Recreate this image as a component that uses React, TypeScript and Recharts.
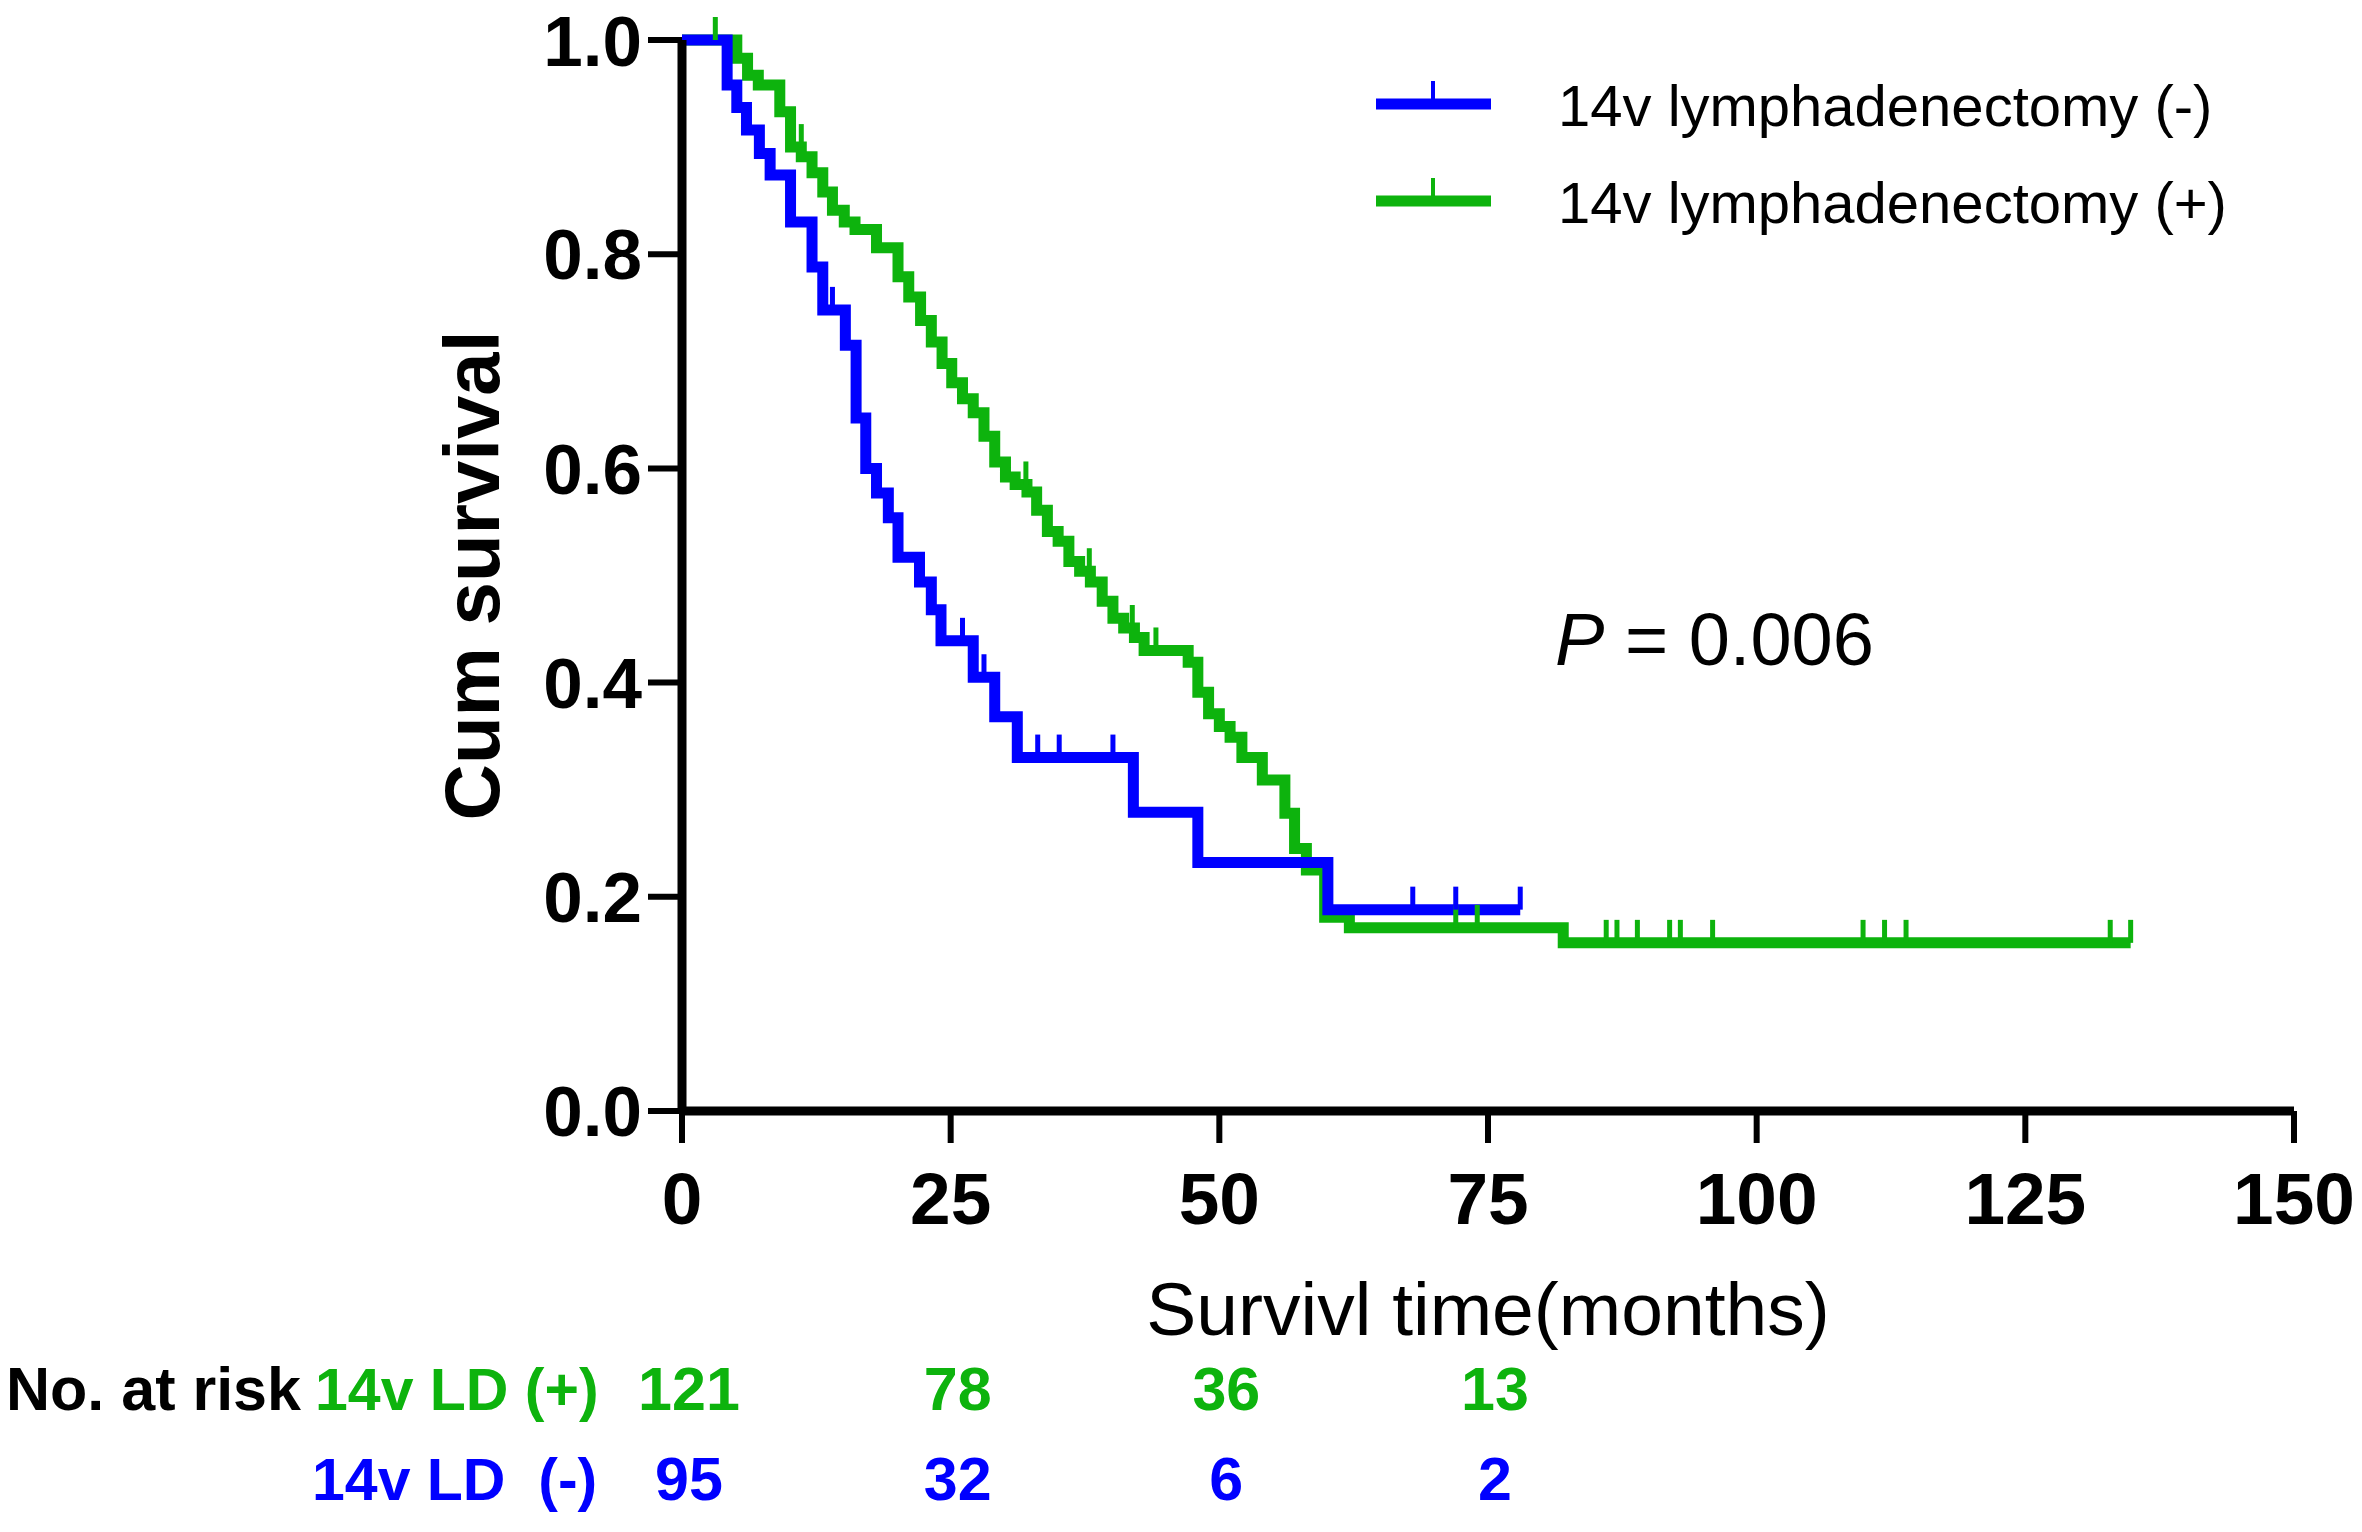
import React from 'react';
import { ComposedChart, Line, Scatter, XAxis, YAxis, Customized } from 'recharts';

// ---- data ----
const blueKM = [
  { t: 0, s: 1.0 }, { t: 4.2, s: 0.958 }, { t: 5.1, s: 0.937 }, { t: 6.0, s: 0.916 },
  { t: 7.2, s: 0.894 }, { t: 8.2, s: 0.874 }, { t: 10.1, s: 0.83 }, { t: 12.1, s: 0.788 },
  { t: 13.1, s: 0.748 }, { t: 15.2, s: 0.715 }, { t: 16.2, s: 0.647 }, { t: 17.1, s: 0.6 },
  { t: 18.1, s: 0.577 }, { t: 19.2, s: 0.554 }, { t: 20.1, s: 0.517 }, { t: 22.1, s: 0.494 },
  { t: 23.2, s: 0.468 }, { t: 24.1, s: 0.439 }, { t: 27.1, s: 0.405 }, { t: 29.1, s: 0.368 },
  { t: 31.2, s: 0.33 }, { t: 42.0, s: 0.279 }, { t: 48.0, s: 0.232 }, { t: 60.1, s: 0.188 },
  { t: 78.0, s: 0.188 },
];
const blueCensor = [
  { t: 14.0, s: 0.748 }, { t: 26.1, s: 0.439 }, { t: 28.1, s: 0.405 }, { t: 33.1, s: 0.33 },
  { t: 35.1, s: 0.33 }, { t: 40.1, s: 0.33 }, { t: 68.0, s: 0.188 }, { t: 72.0, s: 0.188 },
  { t: 78.0, s: 0.188 },
];
const greenKM = [
  { t: 0, s: 1.0 }, { t: 5.1, s: 0.983 }, { t: 6.1, s: 0.967 }, { t: 7.1, s: 0.958 },
  { t: 9.1, s: 0.933 }, { t: 10.1, s: 0.9 }, { t: 11.1, s: 0.891 }, { t: 12.1, s: 0.876 },
  { t: 13.1, s: 0.858 }, { t: 14.0, s: 0.841 }, { t: 15.1, s: 0.83 }, { t: 16.1, s: 0.823 },
  { t: 18.1, s: 0.806 }, { t: 20.1, s: 0.779 }, { t: 21.1, s: 0.76 }, { t: 22.2, s: 0.738 },
  { t: 23.2, s: 0.718 }, { t: 24.2, s: 0.698 }, { t: 25.1, s: 0.68 }, { t: 26.1, s: 0.665 },
  { t: 27.1, s: 0.652 }, { t: 28.1, s: 0.63 }, { t: 29.1, s: 0.606 }, { t: 30.1, s: 0.592 },
  { t: 31.0, s: 0.585 }, { t: 32.1, s: 0.578 }, { t: 33.0, s: 0.561 }, { t: 34.0, s: 0.541 },
  { t: 35.0, s: 0.532 }, { t: 36.0, s: 0.513 }, { t: 37.0, s: 0.504 }, { t: 38.0, s: 0.494 },
  { t: 39.1, s: 0.476 }, { t: 40.1, s: 0.46 }, { t: 41.1, s: 0.451 }, { t: 42.1, s: 0.442 },
  { t: 43.0, s: 0.43 }, { t: 47.1, s: 0.419 }, { t: 48.0, s: 0.391 }, { t: 49.0, s: 0.371 },
  { t: 50.0, s: 0.359 }, { t: 51.0, s: 0.349 }, { t: 52.1, s: 0.33 }, { t: 54.0, s: 0.309 },
  { t: 56.1, s: 0.278 }, { t: 57.0, s: 0.245 }, { t: 58.1, s: 0.225 }, { t: 59.8, s: 0.181 },
  { t: 62.1, s: 0.171 }, { t: 82.0, s: 0.157 }, { t: 134.8, s: 0.157 },
];
const greenCensor = [
  { t: 3.1, s: 1.0 }, { t: 11.1, s: 0.9 }, { t: 32.0, s: 0.585 }, { t: 37.9, s: 0.504 },
  { t: 41.9, s: 0.451 }, { t: 44.1, s: 0.43 }, { t: 72.0, s: 0.171 }, { t: 74.0, s: 0.171 },
  { t: 86.0, s: 0.157 }, { t: 87.0, s: 0.157 }, { t: 88.9, s: 0.157 }, { t: 91.9, s: 0.157 },
  { t: 92.9, s: 0.157 }, { t: 95.9, s: 0.157 }, { t: 109.9, s: 0.157 }, { t: 111.9, s: 0.157 },
  { t: 113.9, s: 0.157 }, { t: 132.9, s: 0.157 }, { t: 134.8, s: 0.157 },
];
const xTicks = [0, 25, 50, 75, 100, 125, 150];
const yTicks = [0, 0.2, 0.4, 0.6, 0.8, 1.0];
const riskTimes = [0, 25, 50, 75];
const riskGreen = [121, 78, 36, 13];
const riskBlue = [95, 32, 6, 2];
const seriesNames = ['14v lymphadenectomy (-)', '14v lymphadenectomy (+)'];

// ---- style / layout ----
const W = 2362;
const H = 1532;
const BLUE = '#0000FF';
const GREEN = '#0DB30D';
const FONT = "'Liberation Sans', Arial, Helvetica, sans-serif";
const M = { top: 40, right: 68, bottom: 271, left: 482 };
const YW = 200;
const XH = 150;
const PLOT_L = M.left + YW;
const PLOT_R = W - M.right;
const PLOT_T = M.top;
const PLOT_B = H - M.bottom - XH;
const xPx = (t: number) => PLOT_L + (t / 150) * (PLOT_R - PLOT_L);

const censorShape = (color: string) => (p: any) => (
  <line x1={p.cx} x2={p.cx} y1={p.cy} y2={p.cy - 23} stroke={color} strokeWidth={5} />
);

const Overlay = () => (
  <g fontFamily={FONT}>
    {/* legend */}
    <line x1={1376} x2={1491} y1={104} y2={104} stroke={BLUE} strokeWidth={11} />
    <line x1={1433} x2={1433} y1={104} y2={81} stroke={BLUE} strokeWidth={4} />
    <text x={1558} y={126} fontSize={58} fill="#000">{seriesNames[0]}</text>
    <line x1={1376} x2={1491} y1={201} y2={201} stroke={GREEN} strokeWidth={11} />
    <line x1={1433} x2={1433} y1={201} y2={178} stroke={GREEN} strokeWidth={4} />
    <text x={1558} y={223} fontSize={58} fill="#000">{seriesNames[1]}</text>
    {/* p value */}
    <text x={1555} y={665} fontSize={74} fill="#000">
      <tspan fontStyle="italic">P</tspan>
      <tspan> = 0.006</tspan>
    </text>
    {/* axis titles */}
    <text
      x={472}
      y={(PLOT_T + PLOT_B) / 2}
      fontSize={78}
      fontWeight="bold"
      textAnchor="middle"
      dominantBaseline="central"
      transform={`rotate(-90, 472, ${(PLOT_T + PLOT_B) / 2})`}
      fill="#000"
    >
      Cum survival
    </text>
    <text x={(PLOT_L + PLOT_R) / 2} y={1335} fontSize={75} textAnchor="middle" fill="#000">
      Survivl time(months)
    </text>
    {/* risk table */}
    <text x={6} y={1410} fontSize={61} fontWeight="bold" fill="#000">No. at risk</text>
    <text x={315} y={1410} fontSize={59} fontWeight="bold" fill={GREEN}>14v LD (+)</text>
    <text x={312} y={1500} fontSize={59} fontWeight="bold" fill={BLUE} style={{ whiteSpace: 'pre' }}>
      {'14v LD  (-)'}
    </text>
    {riskTimes.map((t, i) => (
      <text key={'g' + t} x={xPx(t) + 7} y={1410} fontSize={61} fontWeight="bold" fill={GREEN} textAnchor="middle">
        {riskGreen[i]}
      </text>
    ))}
    {riskTimes.map((t, i) => (
      <text key={'b' + t} x={xPx(t) + 7} y={1500} fontSize={61} fontWeight="bold" fill={BLUE} textAnchor="middle">
        {riskBlue[i]}
      </text>
    ))}
  </g>
);

export default function App() {
  return (
    <div style={{ position: 'absolute', left: 0, top: 0, width: W, height: H, background: '#fff' }}>
      <ComposedChart width={W} height={H} margin={M}>
        <XAxis
          type="number"
          dataKey="t"
          domain={[0, 150]}
          ticks={xTicks}
          allowDataOverflow
          height={XH}
          axisLine={{ stroke: '#000', strokeWidth: 9 }}
          tickLine={{ stroke: '#000', strokeWidth: 6 }}
          tickSize={32}
          tickMargin={29}
          tick={{ fill: '#000', fontSize: 73, fontWeight: 'bold', fontFamily: FONT }}
        />
        <YAxis
          type="number"
          domain={[0, 1]}
          ticks={yTicks}
          width={YW}
          axisLine={{ stroke: '#000', strokeWidth: 9 }}
          tickLine={{ stroke: '#000', strokeWidth: 6 }}
          tickSize={34}
          tickMargin={6}
          tickFormatter={(v: number) => v.toFixed(1)}
          tick={{ fill: '#000', fontSize: 71, fontWeight: 'bold', fontFamily: FONT }}
        />
        <Line
          data={greenKM}
          dataKey="s"
          type="stepAfter"
          stroke={GREEN}
          strokeWidth={11}
          strokeLinejoin="miter"
          strokeLinecap="butt"
          dot={false}
          activeDot={false}
          isAnimationActive={false}
        />
        <Scatter data={greenCensor} dataKey="s" shape={censorShape(GREEN)} isAnimationActive={false} />
        <Line
          data={blueKM}
          dataKey="s"
          type="stepAfter"
          stroke={BLUE}
          strokeWidth={11}
          strokeLinejoin="miter"
          strokeLinecap="butt"
          dot={false}
          activeDot={false}
          isAnimationActive={false}
        />
        <Scatter data={blueCensor} dataKey="s" shape={censorShape(BLUE)} isAnimationActive={false} />
        <Customized component={Overlay} />
      </ComposedChart>
    </div>
  );
}
